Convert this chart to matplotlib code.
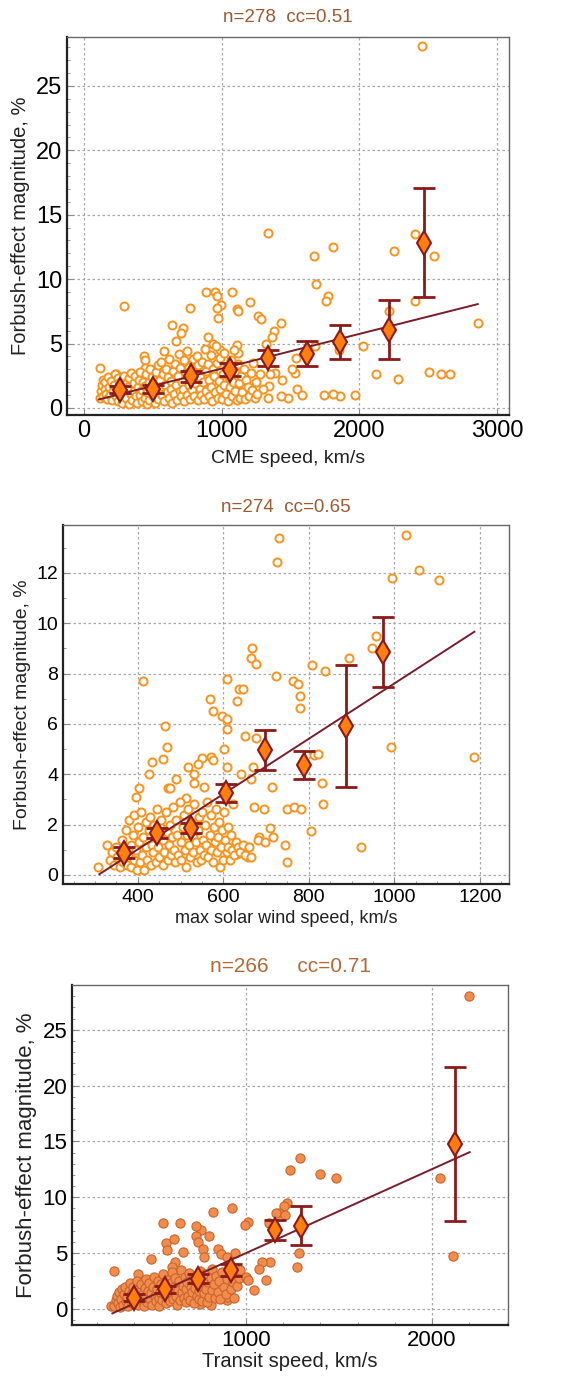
import numpy as np
import matplotlib
matplotlib.use('Agg')
import matplotlib.pyplot as plt
from matplotlib.ticker import MultipleLocator

plt.rcParams['font.family'] = ['Liberation Sans', 'DejaVu Sans']

# ---- panel 1: CME speed ----
cme_x = [289, 1334, 1807, 1669, 2251, 2406, 2544, 1686, 1771, 1758, 2401, 2212, 2860, 2025,
         2120, 2280, 2508, 2593, 2656, 1965, 1860, 1812, 1744, 1855, 1678, 1540, 1533, 1513,
         1549, 1581, 1481, 1432, 1432, 1377, 1363, 1323, 1437, 1387, 1351, 1346, 1339, 1266,
         1283, 1209, 1113, 1120, 1072, 951, 963, 999, 963, 975, 883, 769, 718, 708, 636, 667,
         900, 939, 988, 580, 437, 446, 446, 114, 230, 1108, 1120,
         118, 125, 130, 135, 140, 150, 155, 160, 170, 175, 185, 190, 200, 205, 210, 220, 225,
         230, 240, 245, 250, 255, 265, 270, 280, 285, 290, 300, 305, 310, 320, 325, 330, 340,
         345, 350, 360, 365, 370, 380, 385, 390, 400, 405, 410, 420, 425, 430, 440, 445, 450,
         455, 460, 470, 475, 480, 490, 495, 500, 510, 515, 520, 530, 535, 540, 550, 555, 560,
         570, 575, 580, 590, 595, 600, 610, 615, 620, 630, 635, 640, 650, 655, 660, 670, 675,
         680, 690, 695, 700, 705, 710, 720, 725, 730, 740, 745, 750, 760, 765, 770, 780, 785,
         790, 800, 805, 810, 820, 825, 830, 840, 845, 850, 860, 865, 870, 880, 885, 890, 900,
         905, 910, 920, 925, 930, 940, 945, 950, 960, 965, 970, 980, 985, 990, 1000, 1010, 1015,
         1020, 1030, 1040, 1045, 1050, 1060, 1070, 1075, 1080, 1090, 1095, 1100, 1110, 1120,
         1125, 1130, 1140, 1150, 1160, 1170, 1180, 1190, 1200, 1210, 1220, 1230, 1240, 1250,
         1260, 1280, 1300]
cme_y = [7.9, 13.6, 12.5, 11.8, 12.2, 13.5, 11.8, 9.6, 8.7, 8.3, 8.3, 7.5, 6.6, 4.8,
         2.6, 2.25, 2.8, 2.6, 2.6, 1.0, 0.9, 1.1, 1.0, 4.5, 4.8, 3.9, 2.7, 3.0,
         1.5, 1.0, 0.8, 0.9, 6.6, 6.0, 5.5, 5.0, 2.2, 2.7, 2.6, 1.7, 0.8, 7.1,
         6.9, 8.2, 7.7, 7.5, 9.0, 9.0, 8.7, 8.0, 7.75, 7.0, 9.0, 7.75, 6.2, 5.8, 6.4, 5.2,
         5.5, 5.0, 4.5, 4.4, 4.05, 3.75, 3.1, 3.1, 2.66, 4.9, 4.3,
         0.8, 1.3, 1.8, 2.2, 0.9, 1.5, 2.0, 1.1, 0.7, 2.4, 1.6, 1.0, 2.1, 0.6, 1.3, 1.8, 2.6,
         0.9, 1.2, 2.3, 0.5, 1.7, 2.0, 1.0, 0.4, 1.5, 2.5, 1.2, 0.8, 2.0, 1.6, 0.3, 2.3, 1.1,
         2.7, 0.6, 1.9, 1.3, 2.5, 0.9, 0.4, 1.6, 2.2, 1.0, 2.8, 0.5, 1.4, 2.0, 0.8, 1.7, 2.6,
         0.3, 1.2, 2.0, 0.6, 3.0, 1.5, 2.4, 0.9, 1.9, 0.4, 2.8, 1.3, 3.3, 0.7, 2.2, 1.6, 3.6,
         1.0, 2.6, 0.5, 1.8, 3.0, 1.2, 2.4, 0.8, 3.8, 1.5, 2.1, 0.4, 2.9, 1.1, 3.4, 1.8, 0.6,
         2.5, 4.2, 1.3, 3.1, 0.9, 2.0, 1.5, 3.7, 0.5, 2.7, 1.0, 4.4, 1.8, 3.2, 0.7, 2.3, 1.4,
         3.8, 0.9, 2.8, 1.9, 4.0, 0.6, 3.3, 1.5, 2.4, 1.0, 3.6, 2.0, 0.7, 4.6, 2.9, 1.3, 3.4,
         0.9, 2.2, 4.1, 1.6, 0.5, 3.0, 2.5, 1.2, 4.8, 3.5, 0.8, 2.1, 1.5, 3.9, 0.7, 2.6, 1.8,
         4.3, 1.1, 3.2, 0.5, 2.4, 1.6, 3.7, 0.9, 2.0, 4.5, 1.3, 2.8, 0.6, 3.4,
         1.9, 0.8, 2.5, 1.2, 3.0, 0.7, 2.2, 1.6, 0.9, 2.7, 1.4, 3.5, 0.8, 2.0,
         1.1, 2.6, 1.5]
cme_out_x = [2454]
cme_out_y = [28.1]
cme_bin_x = [260, 502, 781, 1060, 1339, 1618, 1860, 2219, 2467]
cme_bin_y = [1.42, 1.47, 2.45, 2.97, 3.88, 4.21, 5.12, 6.07, 12.84]
cme_bin_err = [0.3, 0.3, 0.4, 0.5, 0.65, 0.97, 1.33, 2.3, 4.2]
cme_fit_x = [107, 2860]
cme_fit_y = [0.65, 8.06]

# ---- panel 2: max solar wind speed ----
sw_x = [731, 726, 1026, 1057, 1105, 995, 413, 668, 664, 676, 723, 762, 774, 779, 779, 807, 838,
        894, 948, 958, 991, 1187, 922, 608, 637, 647, 631, 569, 575, 598, 609, 608, 602, 609,
        651, 677, 670, 642, 665, 713, 622, 672, 696, 750, 765, 781, 830, 832, 812, 822, 806,
        710, 716, 684, 680, 697, 745, 748, 657, 657, 633, 464, 468, 458, 433, 425, 402, 396,
        328, 306, 513, 517, 531, 532, 550, 540, 555, 572, 576, 489, 471, 476,
        335, 340, 345, 350, 352, 358, 362, 365, 370, 372, 375, 378, 380, 383, 385, 388, 390,
        392, 395, 398, 400, 402, 405, 408, 410, 412, 415, 418, 420, 422, 425, 428, 430, 432,
        435, 438, 440, 442, 445, 448, 450, 452, 455, 458, 460, 462, 465, 468, 470, 472, 475,
        478, 480, 482, 485, 488, 490, 492, 495, 498, 500, 502, 505, 508, 510, 512, 515, 518,
        520, 522, 525, 528, 530, 532, 535, 538, 540, 542, 545, 548, 550, 552, 555, 558, 560,
        562, 565, 568, 570, 572, 575, 578, 580, 582, 585, 588, 590, 592, 595, 598, 600, 602,
        605, 608, 610, 612, 615, 618, 620, 625, 630, 635, 640, 645, 650, 660, 665]
sw_y = [13.4, 12.43, 13.5, 12.1, 11.7, 11.8, 7.7, 9.0, 8.6, 8.36, 7.9, 7.7, 7.6, 7.1, 6.64, 8.33,
        8.1, 8.6, 9.0, 9.5, 5.1, 4.7, 1.12, 7.8, 7.4, 7.4, 6.9, 7.0, 6.5, 6.3, 6.2, 5.8, 5.0,
        4.3, 5.5, 5.45, 4.3, 4.0, 3.8, 3.5, 2.8, 2.7, 2.6, 2.6, 2.7, 2.6, 3.64, 2.8, 4.76, 4.8,
        1.76, 1.88, 1.5, 1.5, 1.4, 1.3, 1.2, 0.53, 1.12, 0.73, 0.82, 5.9, 5.1, 4.6, 4.5, 4.0,
        3.44, 3.1, 1.2, 0.33, 3.04, 4.3, 4.0, 3.64, 4.65, 4.4, 3.5, 4.7, 4.56, 3.8, 3.44, 3.44,
        0.6, 0.9, 0.4, 1.1, 0.7, 0.3, 1.4, 0.5, 1.0, 1.8, 0.4, 0.8, 2.2, 1.2, 0.3, 1.6, 0.6,
        2.4, 1.0, 0.2, 1.9, 1.3, 0.5, 2.5, 0.8, 1.5, 0.2, 2.1, 1.1, 0.6, 1.8, 2.3, 0.4, 1.2,
        0.9, 2.0, 1.5, 0.5, 2.6, 1.1, 0.7, 1.9, 2.2, 0.4, 1.4, 0.9, 2.5, 1.7, 0.6, 1.2, 2.0,
        0.8, 1.5, 2.7, 1.0, 0.5, 2.2, 1.6, 0.8, 2.9, 1.3, 0.6, 1.9, 2.4, 1.0, 0.3, 1.6, 2.6,
        1.2, 0.7, 2.1, 1.5, 0.9, 2.8, 1.3, 0.5, 1.8, 2.3, 1.0, 0.6, 2.5, 1.4, 0.8, 2.0, 1.2,
        2.9, 0.7, 1.6, 2.4, 1.0, 0.5, 1.9, 1.3, 2.6, 0.9, 1.5, 2.1, 0.3, 1.1, 1.8, 0.6, 2.5,
        1.4, 0.9, 1.9, 1.1, 0.6, 1.6, 1.0, 0.8, 1.3, 1.1, 0.9, 1.2, 0.8, 1.1, 0.7]
sw_bin_x = [368, 444, 524, 606, 698, 789, 886, 974]
sw_bin_y = [0.89, 1.68, 1.85, 3.24, 4.96, 4.37, 5.93, 8.84]
sw_bin_err = [0.2, 0.2, 0.2, 0.36, 0.8, 0.54, 2.42, 1.39]
sw_fit_x = [310, 1187]
sw_fit_y = [0.03, 9.66]

# ---- panel 3: transit speed ----
tr_x = [2198, 2041, 2113, 1288, 1238, 1398, 1484, 1223, 1202, 1180, 1163, 1211, 1125, 1284,
        1275, 1009, 993, 927, 825, 802, 759, 732, 648, 555, 291, 420, 487, 568, 577, 614, 661,
        732, 741, 768, 777, 850, 864, 943, 898, 1127, 1086, 1068, 1109, 1041, 1002, 898, 898,
        812, 755, 616, 605, 277,
        290, 300, 305, 310, 320, 325, 330, 335, 340, 345, 350, 355, 360, 365, 370, 375, 380,
        385, 390, 395, 400, 405, 410, 415, 420, 425, 430, 435, 440, 445, 450, 455, 460, 465,
        470, 475, 480, 485, 490, 495, 500, 505, 510, 515, 520, 525, 530, 535, 540, 545, 550,
        555, 560, 565, 570, 575, 580, 585, 590, 595, 600, 605, 610, 615, 620, 625, 630, 635,
        640, 645, 650, 655, 660, 665, 670, 675, 680, 685, 690, 695, 700, 705, 710, 715, 720,
        725, 730, 735, 740, 745, 750, 755, 760, 765, 770, 775, 780, 785, 790, 795, 800, 810,
        815, 820, 830, 835, 840, 850, 855, 860, 870, 880, 890, 900, 910, 920, 930, 935, 945,
        950, 960, 970, 1000, 1010]
tr_y = [28.05, 11.77, 4.75, 13.5, 12.45, 12.1, 11.7, 9.5, 9.2, 8.6, 8.6, 8.4, 7.7, 5.0,
        3.8, 7.8, 7.5, 9.0, 8.7, 6.5, 7.1, 7.4, 7.7, 7.7, 3.44, 3.1, 4.5, 5.9, 5.3, 6.3, 5.1,
        6.5, 6.0, 5.4, 4.7, 5.4, 4.9, 5.05, 4.7, 4.25, 4.25, 3.55, 2.6, 1.7, 2.75, 0.8, 1.1,
        0.36, 0.45, 4.25, 3.8, 0.27,
        0.3, 0.8, 1.2, 0.5, 1.5, 0.2, 0.9, 1.8, 0.4, 1.3, 2.0, 0.7, 1.1, 0.3, 1.6, 2.3, 0.9,
        1.4, 0.5, 2.0, 1.2, 0.7, 1.7, 2.5, 0.4, 1.0, 1.5, 2.2, 0.8, 1.3, 0.3, 1.9, 2.7, 1.1,
        0.6, 1.6, 2.3, 0.9, 1.4, 0.4, 2.0, 2.9, 1.2, 0.7, 1.8, 2.5, 1.0, 0.3, 1.5, 2.2, 0.8,
        3.1, 1.3, 1.9, 0.5, 2.6, 1.1, 1.6, 0.7, 2.3, 3.3, 1.4, 0.9, 2.0, 2.8, 1.2, 0.4, 1.7,
        2.5, 0.8, 3.5, 1.5, 2.1, 1.0, 2.9, 0.6, 1.8, 2.4, 1.2, 3.2, 0.8, 2.0, 1.5, 2.7, 0.5,
        1.9, 3.0, 1.2, 2.3, 0.9, 1.6, 3.4, 2.1, 0.7, 2.6, 1.4, 3.1, 1.8, 0.6, 2.4, 1.1, 2.8,
        1.7, 3.6, 2.2, 1.0, 3.0, 1.5, 2.5, 0.9, 3.3, 2.0, 1.3, 2.7, 3.8, 1.8, 2.4, 1.0, 3.1,
        2.1, 2.8, 3.5, 2.9, 2.6]
tr_bin_x = [398, 564, 741, 921, 1157, 1295, 2121]
tr_bin_y = [1.0, 1.76, 2.69, 3.5, 7.08, 7.44, 14.78]
tr_bin_err = [0.3, 0.3, 0.4, 0.5, 0.93, 1.75, 6.87]
tr_fit_x = [282, 2202]
tr_fit_y = [-0.39, 14.04]

W, H = 575, 1387
fig = plt.figure(figsize=(W / 100, H / 100), dpi=100)


def add_ax(l, t, r, b):
    return fig.add_axes([l / W, 1 - b / H, (r - l) / W, (b - t) / H])


def style(ax, ylab_size):
    ax.grid(True, which='major', linestyle=(0, (2, 2)), color='#a8a8a8', linewidth=0.9)
    ax.set_axisbelow(True)
    for s in ax.spines.values():
        s.set_color('#666666')
        s.set_linewidth(1.0)
    ax.spines['left'].set_color('#222222')
    ax.spines['bottom'].set_color('#222222')
    ax.spines['left'].set_linewidth(1.6)
    ax.spines['bottom'].set_linewidth(1.6)
    ax.tick_params(which='both', direction='in', color='#888888')
    ax.tick_params(which='major', length=4)
    ax.tick_params(which='minor', length=2.5)
    ax.set_ylabel('Forbush-effect magnitude, %', fontsize=ylab_size, color='#222222')


def bins(ax, bx, by, be, ms=12):
    ax.errorbar(bx, by, yerr=be, fmt='none', ecolor='#8b1a1a', elinewidth=2,
                capsize=8, capthick=2, zorder=4)
    ax.plot(bx, by, linestyle='none', marker='d', markersize=ms,
            markerfacecolor='#ff7f0e', markeredgecolor='#8b1a1a', markeredgewidth=1.5, zorder=5)


title_col = '#9c5a2e'

# panel 1
ax1 = add_ax(67, 37, 509, 415)
style(ax1, 14.5)
ax1.scatter(cme_x + cme_out_x, cme_y + cme_out_y, s=34, facecolors='white',
            edgecolors='#f7931e', linewidths=1.4, zorder=2)
ax1.plot(cme_fit_x, cme_fit_y, color='#7b1c2a', linewidth=1.4, zorder=3)
bins(ax1, cme_bin_x, cme_bin_y, cme_bin_err)
ax1.set_xlim(-123, 3087)
ax1.set_ylim(-0.55, 28.8)
ax1.xaxis.set_major_locator(MultipleLocator(1000))
ax1.yaxis.set_major_locator(MultipleLocator(5))
ax1.yaxis.set_minor_locator(MultipleLocator(1))
ax1.tick_params(labelsize=17)
ax1.set_xlabel('CME speed, km/s', fontsize=14, color='#222222', labelpad=6)
ax1.set_title('n=278  cc=0.51', fontsize=13.5, color=title_col, pad=11)

# panel 2
ax2 = add_ax(63, 525, 509, 884)
style(ax2, 14)
ax2.scatter(sw_x, sw_y, s=34, facecolors='white',
            edgecolors='#f7931e', linewidths=1.4, zorder=2)
ax2.plot(sw_fit_x, sw_fit_y, color='#7b1c2a', linewidth=1.4, zorder=3)
bins(ax2, sw_bin_x, sw_bin_y, sw_bin_err)
ax2.set_xlim(225, 1268)
ax2.set_ylim(-0.36, 13.9)
ax2.xaxis.set_major_locator(MultipleLocator(200))
ax2.xaxis.set_minor_locator(MultipleLocator(50))
ax2.yaxis.set_major_locator(MultipleLocator(2))
ax2.yaxis.set_minor_locator(MultipleLocator(1))
ax2.tick_params(labelsize=14)
ax2.set_xlabel('max solar wind speed, km/s', fontsize=13, color='#222222', labelpad=3)
ax2.set_title('n=274  cc=0.65', fontsize=13.5, color=title_col, pad=9)

# panel 3
ax3 = add_ax(72, 985, 508, 1325)
style(ax3, 16)
ax3.scatter(tr_x, tr_y, s=44, facecolors='#f28c4c',
            edgecolors='#c8642d', linewidths=0.8, zorder=2)
ax3.plot(tr_fit_x, tr_fit_y, color='#7b1c2a', linewidth=1.4, zorder=3)
bins(ax3, tr_bin_x, tr_bin_y, tr_bin_err)
ax3.set_xlim(65, 2408)
ax3.set_ylim(-1.43, 29.0)
ax3.xaxis.set_major_locator(MultipleLocator(1000))
ax3.xaxis.set_minor_locator(MultipleLocator(200))
ax3.yaxis.set_major_locator(MultipleLocator(5))
ax3.yaxis.set_minor_locator(MultipleLocator(1))
ax3.tick_params(labelsize=16)
ax3.set_xlabel('Transit speed, km/s', fontsize=14.5, color='#222222', labelpad=1)
ax3.set_title('n=266     cc=0.71', fontsize=15, color='#b06a35', pad=9)

fig.savefig('out.png', dpi=100, facecolor='white')
